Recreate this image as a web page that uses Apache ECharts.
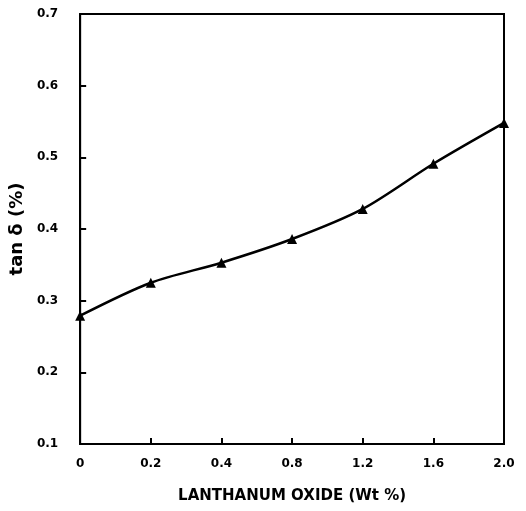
<!DOCTYPE html>
<html>
<head>
<meta charset="utf-8">
<script src="https://cdn.jsdelivr.net/npm/echarts@6/dist/echarts.min.js"></script>
<style>html,body{margin:0;padding:0;background:#fff}#c{width:526px;height:511px}</style>
</head>
<body>
<div id="c"></div>
<script>
const categories = ['0', '0.2', '0.4', '0.8', '1.2', '1.6', '2.0'];
const tanDelta = [0.279, 0.325, 0.353, 0.386, 0.428, 0.491, 0.548];
const yTicks = [0.1, 0.2, 0.3, 0.4, 0.5, 0.6, 0.7];
const xTitle = 'LANTHANUM OXIDE (Wt %)';
const yTitle = 'tan δ (%)';

const font = '"DejaVu Sans", sans-serif';
const chart = echarts.init(document.getElementById('c'));
chart.setOption({
  animation: false,
  backgroundColor: '#fff',
  grid: { left: 80, right: 22, top: 14, bottom: 67, show: true, borderColor: '#000', borderWidth: 2 },
  xAxis: {
    type: 'category', data: categories, boundaryGap: false,
    name: xTitle, nameLocation: 'middle', nameGap: 45,
    nameTextStyle: { fontFamily: font, fontWeight: 'bold', fontSize: 15, color: '#000' },
    axisLine: { show: true, lineStyle: { color: '#000', width: 2 } },
    axisTick: { show: true, inside: true, length: 6, lineStyle: { color: '#000', width: 2 } },
    axisLabel: { margin: 14, fontFamily: font, fontWeight: 'bold', fontSize: 12, color: '#000' },
    splitLine: { show: false }
  },
  yAxis: {
    type: 'value', min: 0.1, max: 0.7, interval: 0.1,
    name: yTitle, nameLocation: 'middle', nameGap: 54, nameRotate: 90,
    nameTextStyle: { fontFamily: font, fontWeight: 'bold', fontSize: 18, color: '#000' },
    axisLine: { show: true, lineStyle: { color: '#000', width: 2 } },
    axisTick: { show: true, inside: true, length: 6, lineStyle: { color: '#000', width: 2 } },
    axisLabel: { margin: 22, fontFamily: font, fontWeight: 'bold', fontSize: 12, color: '#000',
      formatter: v => { const t = yTicks.find(y => Math.abs(y - v) < 1e-6); return t !== undefined ? t.toFixed(1) : ''; } },
    splitLine: { show: false }
  },
  series: [{
    type: 'line', data: tanDelta, smooth: 0.3,
    symbol: 'triangle', symbolSize: 10,
    lineStyle: { color: '#000', width: 2.5 },
    itemStyle: { color: '#000' }
  }]
});
</script>
</body>
</html>
